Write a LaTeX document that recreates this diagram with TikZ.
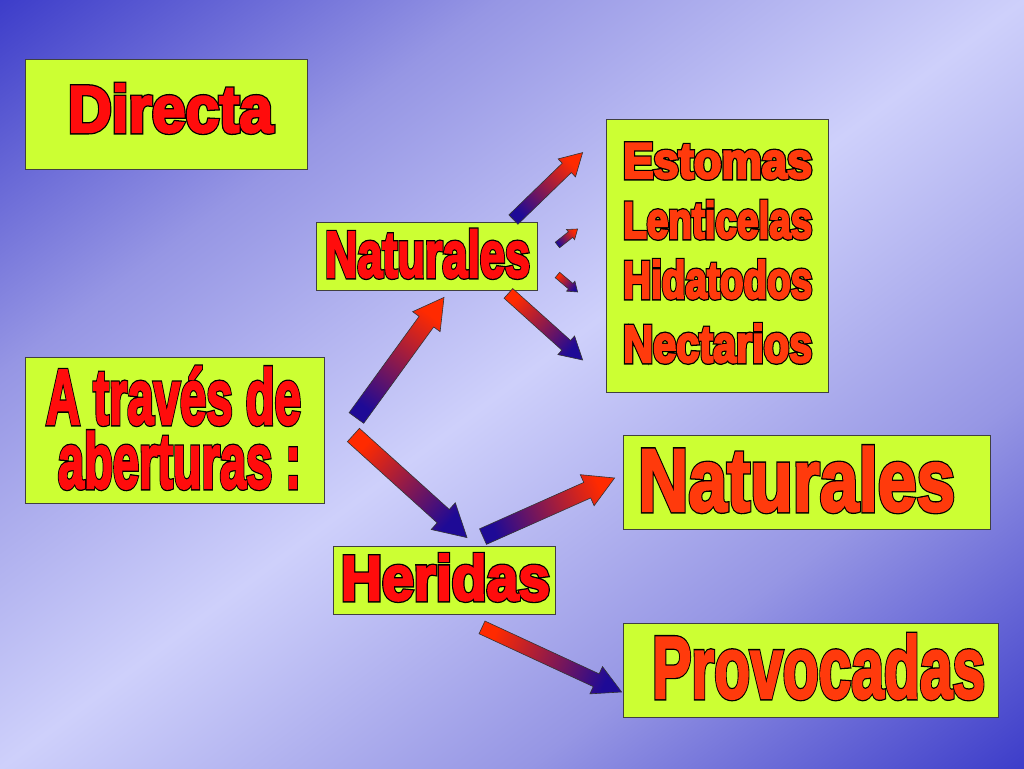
\documentclass[tikz,border=0pt]{standalone}
\usepackage{fontspec}
\setmainfont{Liberation Sans}
\usepackage{graphicx}
\usepackage{xcolor}
\usepackage{tikz}
\usetikzlibrary{positioning, calc}

\definecolor{boxfill}{RGB}{204,255,51}
\definecolor{txtred}{RGB}{255,12,12}
\definecolor{txtorange}{RGB}{255,58,12}
\definecolor{arrowred}{RGB}{255,42,0}
\definecolor{arrowmag}{RGB}{190,15,115}
\definecolor{arrowblue}{RGB}{30,10,150}
\definecolor{bgdark}{RGB}{56,56,200}
\definecolor{bgmid}{RGB}{150,150,228}
\definecolor{bglight}{RGB}{206,208,251}

\pgfdeclarehorizontalshading{bgdiag}{100bp}{color(0bp)=(bgdark); color(14bp)=(bgdark); color(32bp)=(bgmid); color(50bp)=(bglight); color(68bp)=(bgmid); color(86bp)=(bgdark); color(100bp)=(bgdark)}

% outlined, stretched title text
\newcommand\wordart[3]{\resizebox{#1pt}{\height}{\fontsize{#2}{#2}\selectfont\bfseries
  \rlap{\special{pdf:literal direct 2 Tr 5 w 0 G}#3}%
  {\color{.}\special{pdf:literal direct 2 Tr 2.4 w}#3}\special{pdf:literal direct 0 Tr}}}

% block arrow: tail, head, half shaft, half head, head length (red end on top)
\newcommand\gradarrow[5]{%
  \pgfmathanglebetweenpoints{\pgfpointanchor{#1}{center}}{\pgfpointanchor{#2}{center}}%
  \pgfmathsetmacro\arrang{mod(\pgfmathresult,180)-90}%
  \coordinate (mid) at ($(#2)!#5!(#1)$);
  \draw[arrow, shading angle=\arrang] ($(#1)!#3!90:(#2)$) -- ($(mid)!#3!90:(#2)$) -- ($(mid)!#4!90:(#2)$) -- (#2)
    -- ($(mid)!#4!-90:(#2)$) -- ($(mid)!#3!-90:(#2)$) -- ($(#1)!#3!-90:(#2)$) -- cycle;}

\begin{document}
\begin{tikzpicture}[x=1pt, y=1pt,
    box/.style 2 args={draw=black!75, line width=0.8pt, fill=boxfill, minimum width=#1, minimum height=#2, inner sep=0pt},
    wa/.style={inner sep=0pt, text=txtred},
    wb/.style={inner sep=0pt, text=txtorange, anchor=base west},
    arrow/.style={draw=black!80, line width=0.6pt, top color=arrowred, middle color=arrowmag, bottom color=arrowblue}
]

% Background
\useasboundingbox (0,0) rectangle (1024,768);
\fill[shading=bgdiag, shading angle=-53.13] (0,0) rectangle (1024,768);

% Components
\node[box={282pt}{110pt}] (directa) at (166,654) {};
\node[box={221pt}{68pt}] (natsmall) at (426.5,512) {};
\node[box={299pt}{146pt}] (abert) at (174.5,338) {};
\node[box={222pt}{273pt}] (lista) at (717,512.5) {};
\node[box={367pt}{94pt}] (natbig) at (806.5,286) {};
\node[box={222pt}{68pt}] (heridas) at (444,188) {};
\node[box={375pt}{94pt}] (provoc) at (810.5,98) {};

% Labels
\node[wa, anchor=base] (directa-t) at ($(directa)+(4.5,-18)$) {\wordart{205}{66}{Directa}};
\node[wa, anchor=base] (natsmall-t) at ($(natsmall)+(1,-21)$) {\wordart{205}{65}{Naturales}};
\node[wa, anchor=base, align=center, font=\fontsize{78}{64}\selectfont] (abert-t) at ($(abert)+(-1,-58)$)
  {\wordart{255}{78}{A través de}\\\hspace*{12pt}\wordart{243}{78}{aberturas :}};
\node[wa, anchor=base] (heridas-t) at ($(heridas)+(1.5,-20)$) {\wordart{209}{63}{Heridas}};

\node[wb] (estomas) at ($(lista)+(-94,77.5)$) {\wordart{189}{50}{Estomas}};
\node[wb] (lenticelas) at ($(lista)+(-94,17.5)$) {\wordart{189}{51}{Lenticelas}};
\node[wb] (hidatodos) at ($(lista)+(-94,-42.5)$) {\wordart{189}{52}{Hidatodos}};
\node[wb] (nectarios) at ($(lista)+(-94,-106.5)$) {\wordart{189}{52}{Nectarios}};
\node[wb] (natbig-t) at ($(natbig)+(-168.5,-29)$) {\wordart{317}{89}{Naturales}};
\node[wb] (provoc-t) at ($(provoc)+(-158.5,-28)$) {\wordart{333}{88}{Provocadas}};

% Arrow ends
\coordinate (up-t) at ($(abert.east)+(32,12)$);
\coordinate (up-h) at ($(natsmall.south)+(17.5,-7)$);
\coordinate (down-t) at ($(abert.east)+(29,-5)$);
\coordinate (down-h) at ($(heridas.north)+(23,8)$);
\coordinate (est-t) at ($(natsmall.north east)+(-24,2)$);
\coordinate (est-h) at ($(lista.north west)+(-23,-34)$);
\coordinate (len-t) at ($(natsmall.east)+(20,11)$);
\coordinate (len-h) at ($(lista.west)+(-28,26.5)$);
\coordinate (hid-t) at ($(natsmall.east)+(20,-19)$);
\coordinate (hid-h) at ($(lista.west)+(-28,-36.5)$);
\coordinate (nec-t) at ($(natsmall.south east)+(-29,-3)$);
\coordinate (nec-h) at ($(lista.west)+(-23,-104.5)$);
\coordinate (nat-t) at ($(heridas.north)+(39,9)$);
\coordinate (nat-h) at ($(natbig.west)+(-8,4)$);
\coordinate (prov-t) at ($(heridas.south)+(38,-13)$);
\coordinate (prov-h) at ($(provoc.west)+(-1,-22)$);

% Connections
\gradarrow{up-t}{up-h}{9pt}{17pt}{30pt}
\gradarrow{down-t}{down-h}{9pt}{18pt}{32pt}
\gradarrow{est-t}{est-h}{6.5pt}{12.5pt}{22pt}
\gradarrow{len-t}{len-h}{3.5pt}{6.5pt}{9pt}
\gradarrow{hid-t}{hid-h}{3.5pt}{6.5pt}{9pt}
\gradarrow{nec-t}{nec-h}{6.5pt}{12.5pt}{22pt}
\gradarrow{nat-t}{nat-h}{8.5pt}{17pt}{30pt}
\gradarrow{prov-t}{prov-h}{7pt}{15pt}{28pt}

\end{tikzpicture}
\end{document}
